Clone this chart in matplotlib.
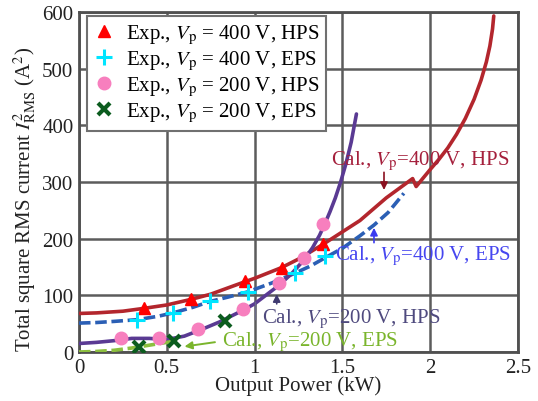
import matplotlib
matplotlib.use("Agg")
import matplotlib.pyplot as plt

plt.rcParams['font.family'] = ['Liberation Serif', 'DejaVu Serif']
plt.rcParams['mathtext.fontset'] = 'stix'

# experimental points (kW, A^2)
exp400_hps_x = [0.37, 0.64, 0.945, 1.154, 1.39]
exp400_hps_y = [78, 93, 126, 149, 191]
exp400_eps_x = [0.33, 0.535, 0.744, 0.96, 1.23, 1.40]
exp400_eps_y = [57, 69, 90, 106, 139, 170]
exp200_hps_x = [0.24, 0.456, 0.678, 0.936, 1.14, 1.283, 1.39]
exp200_hps_y = [24, 24, 41, 76, 121, 166, 226]
exp200_eps_x = [0.342, 0.541, 0.83]
exp200_eps_y = [8, 20, 55]

# calculated curves
cal400_hps_x = [0, 0.1, 0.25, 0.37, 0.5, 0.64, 0.75, 0.945, 1.0, 1.154, 1.25, 1.39,
                1.5, 1.6, 1.75, 1.9, 1.92, 2.0, 2.05, 2.1, 2.15, 2.2, 2.25, 2.29,
                2.32, 2.34, 2.355, 2.362]
cal400_hps_y = [68, 69, 72, 77, 83, 93, 102, 124, 130, 149, 164, 190,
                212, 232, 272, 306, 292, 322, 340, 360, 384, 412, 446, 480,
                512, 540, 570, 593]
cal400_eps_x = [0, 0.1, 0.2, 0.33, 0.45, 0.535, 0.65, 0.744, 0.85, 0.96, 1.1, 1.23,
                1.32, 1.40, 1.5, 1.6, 1.68, 1.76, 1.85]
cal400_eps_y = [51, 52, 54, 57, 63, 69, 79, 89, 97, 106, 122, 139,
                152, 166, 183, 205, 224, 246, 280]
cal200_hps_x = [0, 0.1, 0.2, 0.3, 0.4, 0.5, 0.6, 0.7, 0.8, 0.936, 1.0, 1.14,
                1.21, 1.28, 1.33, 1.37, 1.40, 1.43, 1.46, 1.49, 1.52, 1.55, 1.58]
cal200_hps_y = [15, 17, 20, 24, 24, 22, 28, 40, 53, 74, 85, 118,
                138, 162, 184, 206, 226, 248, 272, 300, 332, 370, 420]
cal200_eps_x = [0, 0.1, 0.2, 0.3, 0.4, 0.5, 0.55]
cal200_eps_y = [0, 1, 3, 7, 12, 17, 19]

x_ticks = [0, 0.5, 1, 1.5, 2, 2.5]
x_tick_labels = ['0', '0.5', '1', '1.5', '2', '2.5']
y_ticks = [0, 100, 200, 300, 400, 500, 600]

c_red = '#b3262d'
c_blue = '#2b5fb5'
c_purple = '#5a3a93'
c_green = '#8cbf3f'

fig = plt.figure(figsize=(5.38, 4.02), dpi=100)
ax = fig.add_axes([0.1468, 0.1219, 0.816, 0.8458])

# curves
ax.plot(cal400_hps_x, cal400_hps_y, color=c_red, lw=2.6, zorder=3, solid_capstyle='round')
ax.plot(cal400_eps_x, cal400_eps_y, color=c_blue, lw=2.6, ls=(0, (3.2, 1.3)), zorder=3)
ax.plot(cal200_hps_x, cal200_hps_y, color=c_purple, lw=2.6, zorder=3, solid_capstyle='round')
ax.plot(cal200_eps_x, cal200_eps_y, color=c_green, lw=2.6, ls=(0, (3.2, 1.3)), zorder=3)

# experimental markers
ax.plot(exp400_hps_x, exp400_hps_y, ls='none', marker='^', ms=9, color='#ff0000',
        label='Exp., $V_{\\rm p}$ = 400 V, HPS', zorder=5)
ax.plot(exp400_eps_x, exp400_eps_y, ls='none', marker='+', ms=12, mew=2.2, color='#00e5ff',
        label='Exp., $V_{\\rm p}$ = 400 V, EPS', zorder=5)
ax.plot(exp200_hps_x, exp200_hps_y, ls='none', marker='o', ms=9, color='#f77fbe',
        label='Exp., $V_{\\rm p}$ = 200 V, HPS', zorder=5)
ax.plot(exp200_eps_x, exp200_eps_y, ls='none', marker='x', ms=8, mew=3, color='#0b5c1e',
        label='Exp., $V_{\\rm p}$ = 200 V, EPS', zorder=5)

# labels for calculated curves
fs = 15
ax.text(1.435, 338, 'Cal., $V_{\\rm p}$=400 V, HPS', color='#a5203c', fontsize=fs,
        ha='left', va='center', zorder=6)
ax.annotate('', xy=(1.737, 281), xytext=(1.737, 322),
            arrowprops=dict(arrowstyle='-|>', color='#8b1020', lw=1.2, mutation_scale=11))
ax.text(1.458, 170, 'Cal., $V_{\\rm p}$=400 V, EPS', color='#4646f0', fontsize=fs,
        ha='left', va='center', zorder=6)
ax.annotate('', xy=(1.68, 224), xytext=(1.68, 188),
            arrowprops=dict(arrowstyle='-|>', color='#3b3bf0', lw=1.2, mutation_scale=11))
ax.text(1.042, 60, 'Cal., $V_{\\rm p}$=200 V, HPS', color='#4f4a7e', fontsize=fs,
        ha='left', va='center', zorder=6)
ax.annotate('', xy=(1.126, 107), xytext=(1.126, 80),
            arrowprops=dict(arrowstyle='-|>', color='#3f3a70', lw=1.2, mutation_scale=11))
ax.plot([1.0, 1.0], [58, 88], color='#6a6a8a', lw=1.0, zorder=4)
ax.text(0.814, 18, 'Cal., $V_{\\rm p}$=200 V, EPS', color='#7ab52c', fontsize=fs,
        ha='left', va='center', zorder=6)
ax.annotate('', xy=(0.585, 9), xytext=(0.79, 18),
            arrowprops=dict(arrowstyle='-|>', color='#7ab52c', lw=1.4, mutation_scale=11))

ax.set_xlim(0, 2.5)
ax.set_ylim(0, 600)
ax.set_xticks(x_ticks)
ax.set_xticklabels(x_tick_labels)
ax.set_yticks(y_ticks)
ax.tick_params(length=0, labelsize=fs, pad=4, colors='#222222')
ax.grid(True, color='#5c5c5c', lw=1.8)
ax.set_axisbelow(True)
for s in ax.spines.values():
    s.set_color('#505050')
    s.set_linewidth(2)

ax.set_xlabel('Output Power (kW)', fontsize=fs, labelpad=-1, color='#222222')
fig.text(25 / 538, 1 - 199 / 402, 'Total square RMS current $I^2_{\\rm RMS}$ (A$^2$)',
         rotation=90, ha='center', va='center', fontsize=fs, color='#222222')

leg = ax.legend(loc='upper left', bbox_to_anchor=(0.018, 0.988), borderaxespad=0,
                fontsize=fs, frameon=True, fancybox=False, framealpha=1,
                edgecolor='#707070', handlelength=1.0, handletextpad=0.6,
                labelspacing=0.15, borderpad=0.3)
leg.get_frame().set_linewidth(1.5)
leg.set_zorder(10)

fig.savefig('out.png', dpi=100)
